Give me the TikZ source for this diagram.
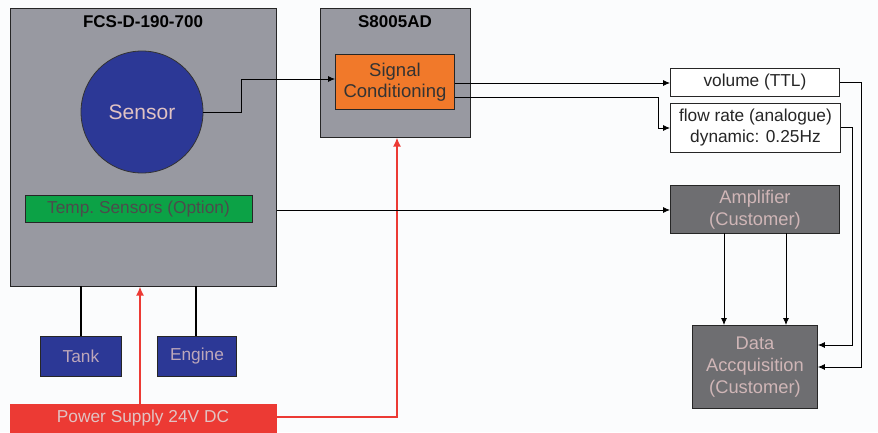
\documentclass[tikz,border=0pt]{standalone}
\usepackage{fontspec}
\setmainfont{Liberation Sans}
\usetikzlibrary{arrows.meta}
\definecolor{boxgray}{RGB}{152,153,161}
\definecolor{sensblue}{RGB}{44,56,150}
\definecolor{tempgreen}{RGB}{12,162,70}
\definecolor{sigorange}{RGB}{241,121,42}
\definecolor{psred}{RGB}{236,58,52}
\definecolor{custgray}{RGB}{110,110,113}
\definecolor{paletext}{RGB}{225,195,195}
\definecolor{bgcol}{RGB}{251,252,253}
\tikzset{
  box/.style={draw=black!85, line width=0.9pt, inner sep=0pt, anchor=north west},
  sig/.style={draw=black, line width=0.8pt, -{Latex[length=7pt,width=6pt]}},
  pwr/.style={draw=psred, line width=2.2pt, -{Latex[length=9pt,width=8pt]}},
  thick link/.style={draw=black, line width=2.6pt},
  lbl/.style={font=\fontsize{17.3}{21}\selectfont, align=center, inner sep=0pt},
  ttl/.style={font=\bfseries\fontsize{17}{20}\selectfont, inner sep=0pt},
}
\begin{document}
\begin{tikzpicture}[x=1pt,y=-1pt]
\useasboundingbox (0,0) rectangle (878,432);
\fill[bgcol] (0,0) rectangle (878,432);
% FCS box
\node[box, fill=boxgray, minimum width=266pt, minimum height=278pt] (fcs) at (10,8) {};
\node[ttl] (fcst) at (143,22) {FCS-D-190-700};
\node[circle, draw=black!80, line width=0.8pt, fill=sensblue, minimum size=122pt, inner sep=0pt,
  text=paletext, font=\fontsize{21}{24}\selectfont] (sensor) at (142,112) {Sensor};
\node[box, fill=tempgreen, minimum width=227pt, minimum height=27pt] (temp) at (25,195) {};
\node[lbl, text=black!70] (tempt) at (138.5,209) {Temp.\ Sensors (Option)};
% Tank / Engine
\node[box, fill=sensblue, minimum width=81pt, minimum height=40pt] (tank) at (40,336) {};
\node[lbl, text=paletext!80!sensblue] at (tank.center) {Tank};
\node[box, fill=sensblue, minimum width=79pt, minimum height=40pt] (engine) at (157,336) {};
\node[lbl, text=paletext!80!sensblue] at (engine.center) {Engine};
\draw[thick link] (81,286) -- (tank.north -| 81,0);
\draw[thick link] (196,286) -- (engine.north -| 196,0);
% Power supply
\node[box, fill=psred, draw=psred, minimum width=266pt, minimum height=30pt] (ps) at (10,404) {};
\node[lbl, text=paletext] at (143,418) {Power Supply 24V DC};
% S8005AD
\node[box, fill=boxgray, minimum width=150pt, minimum height=129pt] (s8) at (320,8) {};
\node[ttl] (s8t) at (395,22) {S8005AD};
\node[box, fill=sigorange, minimum width=119pt, minimum height=55pt] (sc) at (335,54) {};
\node[lbl, text=black!80, font=\fontsize{18.5}{21}\selectfont] at (sc.center) {Signal\\Conditioning};
% power arrows
\draw[pwr] (140,404) -- (140,286.5);
\draw[pwr] (ps.east |- 0,417) -- (397,417) -- (397,137.5);
% outputs
\node[box, fill=white, minimum width=169pt, minimum height=28pt] (vol) at (670,68) {};
\node[lbl, text=black!85] at (vol.center) {volume (TTL)};
\node[box, fill=white, minimum width=170pt, minimum height=49pt] (flow) at (670,103) {};
\node[lbl, text=black!85] at (flow.center) {flow rate (analogue)\\dynamic: 0.25Hz};
\node[box, fill=custgray, minimum width=169pt, minimum height=48pt] (amp) at (670,185) {};
\node[lbl, text=paletext!85!custgray, font=\fontsize{18.3}{22}\selectfont] at (amp.center) {Amplifier\\(Customer)};
\node[box, fill=custgray, minimum width=125pt, minimum height=83pt] (daq) at (692,325) {};
\node[lbl, text=paletext!85!custgray, font=\fontsize{18.3}{22}\selectfont] at (daq.center) {Data\\Accquisition\\(Customer)};
% connectors
\draw[sig] (sensor.east) -- (241,112) -- (241,79) -- (sc.west |- 0,79);
\draw[sig] (sc.east |- 0,83) -- (vol.west |- 0,83);
\draw[sig] (sc.east |- 0,97) -- (658,97) -- (658,128) -- (flow.west |- 0,128);
\draw[sig] (fcs.east |- 0,210) -- (amp.west |- 0,210);
\draw[sig] (724,233) -- (daq.north -| 724,0);
\draw[sig] (786,233) -- (daq.north -| 786,0);
\draw[sig] (vol.east |- 0,82) -- (861,82) -- (861,367) -- (daq.east |- 0,367);
\draw[sig] (flow.east |- 0,127) -- (852,127) -- (852,345) -- (daq.east |- 0,345);
\end{tikzpicture}
\end{document}
